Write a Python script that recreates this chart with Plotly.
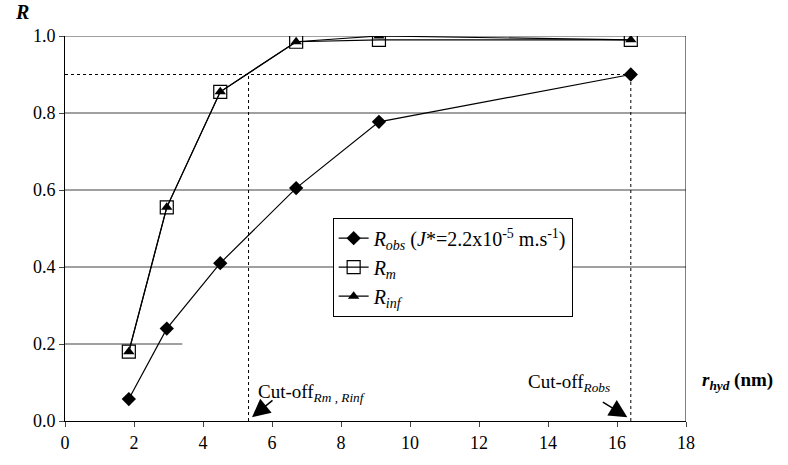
import plotly.graph_objects as go

r_hyd = [1.85, 2.95, 4.5, 6.7, 9.1, 16.4]
R_obs = [0.057, 0.24, 0.41, 0.605, 0.777, 0.90]
R_m = [0.18, 0.555, 0.855, 0.985, 0.99, 0.99]
R_inf = [0.18, 0.555, 0.855, 0.985, 1.0, 0.99]

x_ticks = [0, 2, 4, 6, 8, 10, 12, 14, 16, 18]
y_ticks = [0.0, 0.2, 0.4, 0.6, 0.8, 1.0]
y_tick_text = ["0.0", "0.2", "0.4", "0.6", "0.8", "1.0"]

cut_rm = 5.32
cut_robs = 16.4
r_cut = 0.9

FONT = "Liberation Serif"

fig = go.Figure()
fig.add_trace(go.Scatter(
    x=r_hyd, y=R_obs, mode="lines+markers",
    name="<i>R<sub>obs</sub></i> (<i>J</i>*=2.2x10<sup>-5</sup> m.s<sup>-1</sup>)",
    line=dict(color="black", width=1.2),
    marker=dict(symbol="diamond", size=11, color="black")))
fig.add_trace(go.Scatter(
    x=r_hyd, y=R_m, mode="lines+markers", name="<i>R<sub>m</sub></i>",
    line=dict(color="black", width=1.2),
    marker=dict(symbol="square-open", size=13, color="black", line=dict(width=1.2))))
fig.add_trace(go.Scatter(
    x=r_hyd, y=R_inf, mode="lines+markers", name="<i>R<sub>inf</sub></i>",
    line=dict(color="black", width=1.2),
    marker=dict(symbol="triangle-up", size=10, color="black")))

shapes = []
grid_col = "#808080"
for yv in [0.4, 0.6, 0.8, 1.0]:
    shapes.append(dict(type="line", xref="x", yref="y", x0=0, x1=18, y0=yv, y1=yv,
                       line=dict(color=grid_col, width=1.5), layer="below"))
shapes.append(dict(type="line", xref="x", yref="y", x0=0, x1=3.4, y0=0.2, y1=0.2,
                   line=dict(color=grid_col, width=1.5), layer="below"))
shapes.append(dict(type="line", xref="x", yref="y", x0=18, x1=18, y0=0, y1=1.0,
                   line=dict(color="black", width=1)))
# dotted cut-off lines
shapes.append(dict(type="line", xref="x", yref="y", x0=0, x1=cut_robs, y0=r_cut, y1=r_cut,
                   line=dict(color="black", width=1, dash="dot")))
shapes.append(dict(type="line", xref="x", yref="y", x0=cut_robs, x1=cut_robs, y0=0, y1=r_cut,
                   line=dict(color="black", width=1, dash="dot")))
shapes.append(dict(type="line", xref="x", yref="y", x0=cut_rm, x1=cut_rm, y0=0, y1=r_cut,
                   line=dict(color="black", width=1, dash="dot")))

annotations = [
    dict(x=5.42, y=0.01, xref="x", yref="y", text="", showarrow=True, ax=22, ay=-18,
         arrowhead=2, arrowsize=2.4, arrowwidth=1.5, arrowcolor="black"),
    dict(x=16.3, y=0.01, xref="x", yref="y", text="", showarrow=True, ax=-26, ay=-16,
         arrowhead=2, arrowsize=2.4, arrowwidth=1.5, arrowcolor="black"),
    dict(x=5.55, y=0.072, xref="x", yref="y", xanchor="left", yanchor="middle",
         text="Cut-off<sub><i>Rm , Rinf</i></sub>", showarrow=False,
         font=dict(family=FONT, size=19, color="black")),
    dict(x=13.35, y=0.1, xref="x", yref="y", xanchor="left", yanchor="middle",
         text="Cut-off<sub><i>Robs</i></sub>", showarrow=False,
         font=dict(family=FONT, size=19, color="black")),
    dict(x=1.022, y=0.103, xref="paper", yref="paper", xanchor="left", yanchor="middle",
         text="<b><i>r<sub>hyd</sub></i> (nm)</b>", showarrow=False,
         font=dict(family=FONT, size=19, color="black")),
    dict(x=-0.083, y=1.062, xref="paper", yref="paper", xanchor="left", yanchor="middle",
         text="<b><i>R</i></b>", showarrow=False,
         font=dict(family=FONT, size=20, color="black")),
]

fig.update_layout(
    width=788, height=465,
    margin=dict(l=65, r=102, t=36, b=42),
    paper_bgcolor="white", plot_bgcolor="white",
    font=dict(family=FONT, size=18, color="black"),
    showlegend=True,
    legend=dict(x=0.431, y=0.528, xanchor="left", yanchor="top",
                bgcolor="white", bordercolor="black", borderwidth=1,
                font=dict(family=FONT, size=20, color="black"),
                itemwidth=30, tracegroupgap=0),
    shapes=shapes, annotations=annotations,
    xaxis=dict(range=[0, 18], tickvals=x_ticks, ticks="outside", ticklen=5,
               showline=True, linecolor="black", linewidth=1, showgrid=False,
               zeroline=False, tickfont=dict(family=FONT, size=18)),
    yaxis=dict(range=[0, 1.0], tickvals=y_ticks, ticktext=y_tick_text,
               ticks="outside", ticklen=5, showline=True, linecolor="black",
               linewidth=1, showgrid=False, zeroline=False, tickfont=dict(family=FONT, size=18)),
)

fig.write_html("out.html")
